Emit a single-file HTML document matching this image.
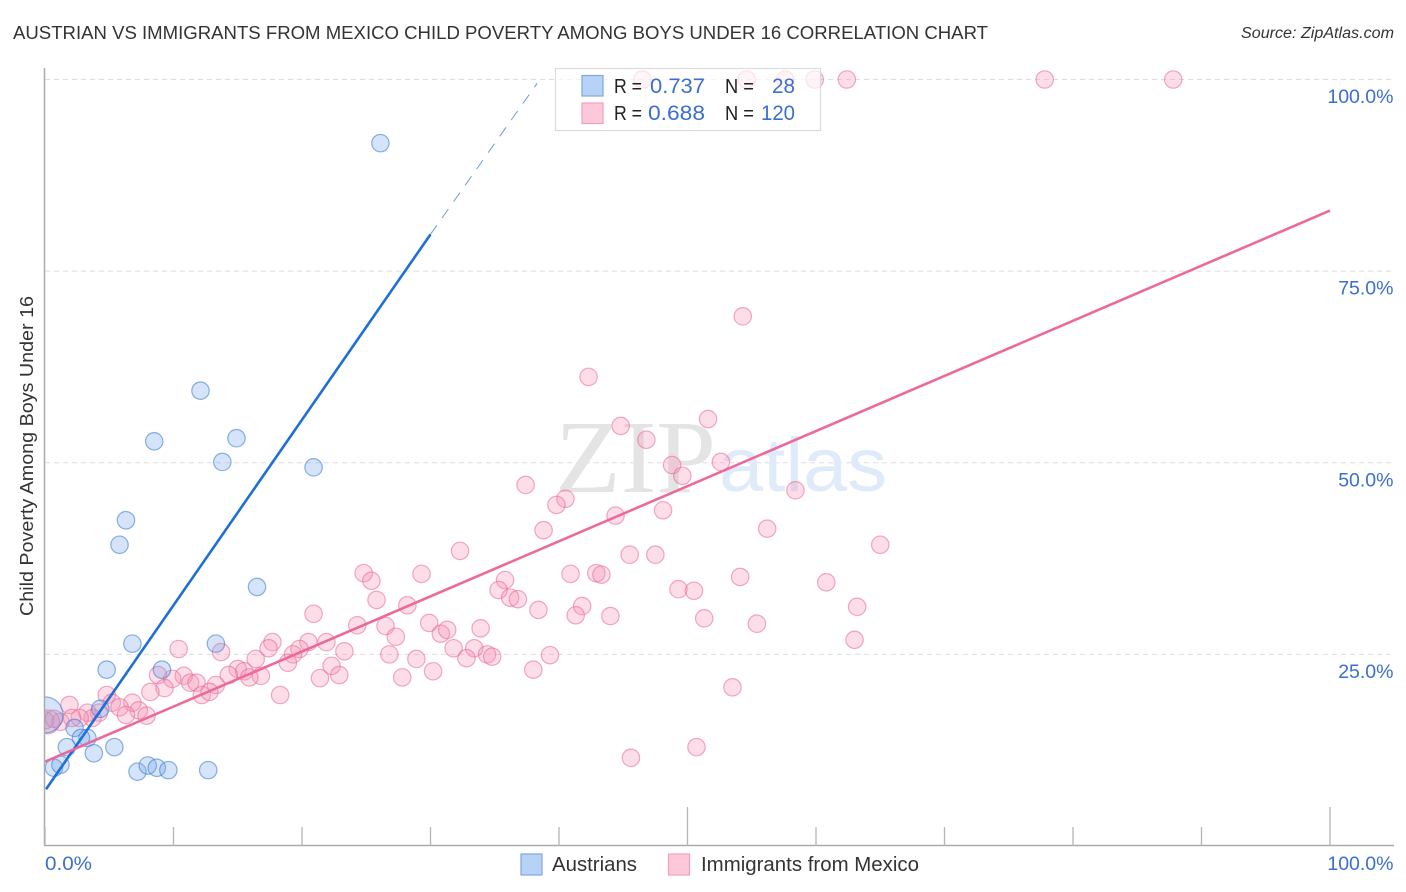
<!DOCTYPE html>
<html lang="en">
<head>
<meta charset="utf-8">
<title>Austrian vs Immigrants from Mexico Child Poverty Correlation Chart</title>
<style>
html,body{margin:0;padding:0;background:#fff;}
svg{display:block;font-family:"Liberation Sans",sans-serif;}
</style>
</head>
<body>
<svg id="chart" width="1406" height="892" viewBox="0 0 1406 892" xmlns="http://www.w3.org/2000/svg">
  <defs>
    <clipPath id="plot-clip"><rect x="45" y="60" width="1350" height="786"/></clipPath>
  </defs>
  <rect x="0" y="0" width="1406" height="892" fill="#fff"/>
  <text x="13" y="39" font-size="18.5" fill="#333" textLength="975" lengthAdjust="spacingAndGlyphs">AUSTRIAN VS IMMIGRANTS FROM MEXICO CHILD POVERTY AMONG BOYS UNDER 16 CORRELATION CHART</text>
  <text x="1241" y="38" font-size="15.5" font-style="italic" fill="#333" textLength="153" lengthAdjust="spacingAndGlyphs">Source: ZipAtlas.com</text>
  <g id="grid"></g>
  <g>
    <text x="555" y="492" font-family="'Liberation Serif',serif" font-size="104" fill="#e4e4e4" textLength="161" lengthAdjust="spacingAndGlyphs">ZIP</text>
    <text x="719" y="491" font-size="76" fill="#dfeafa" textLength="168" lengthAdjust="spacingAndGlyphs">atlas</text>
  </g>
  <g id="points" clip-path="url(#plot-clip)"></g>
  <g id="trends"></g>
  <g id="axes"></g>
  <text transform="translate(33,456) rotate(-90)" text-anchor="middle" font-size="18.5" fill="#333" textLength="320" lengthAdjust="spacingAndGlyphs">Child Poverty Among Boys Under 16</text>

  <g>
    <rect x="555.5" y="68.5" width="265" height="62" fill="#fff" fill-opacity="0.68" stroke="#dcdcdc" stroke-width="1.2"/>
    <rect x="582" y="75.5" width="21" height="20.5" fill="#b7d2f6" stroke="#7da8e0" stroke-width="1.2"/>
    <rect x="582" y="103" width="21" height="20.5" fill="#fdc8da" stroke="#f2a0bd" stroke-width="1.2"/>
    <text x="614" y="93" font-size="20" fill="#222" textLength="28" lengthAdjust="spacingAndGlyphs">R =</text>
    <text x="650" y="93" font-size="21" fill="#3a6fd0" textLength="55" lengthAdjust="spacingAndGlyphs">0.737</text>
    <text x="725" y="93" font-size="20" fill="#222" textLength="29" lengthAdjust="spacingAndGlyphs">N =</text>
    <text x="772" y="93" font-size="21" fill="#3a6fd0" textLength="23" lengthAdjust="spacingAndGlyphs">28</text>
    <text x="614" y="120" font-size="20" fill="#222" textLength="28" lengthAdjust="spacingAndGlyphs">R =</text>
    <text x="648" y="120" font-size="21" fill="#3a6fd0" textLength="57" lengthAdjust="spacingAndGlyphs">0.688</text>
    <text x="725" y="120" font-size="20" fill="#222" textLength="29" lengthAdjust="spacingAndGlyphs">N =</text>
    <text x="761" y="120" font-size="21" fill="#3a6fd0" textLength="34" lengthAdjust="spacingAndGlyphs">120</text>
  </g>

  <g>
    <rect x="521" y="854" width="21" height="21" fill="#b7d2f6" stroke="#7da8e0" stroke-width="1.2"/>
    <text x="552" y="871" font-size="20" fill="#333" textLength="85" lengthAdjust="spacingAndGlyphs">Austrians</text>
    <rect x="668.5" y="854" width="21" height="21" fill="#fdc8da" stroke="#f2a0bd" stroke-width="1.2"/>
    <text x="701" y="871" font-size="20" fill="#333" textLength="218" lengthAdjust="spacingAndGlyphs">Immigrants from Mexico</text>
  </g>
</svg>
<script>
const xTickValues = [0, 10, 20, 30, 40, 50, 60, 70, 80, 90, 100];
const xMajorTicks = [50, 100];
const yTickValues = [25, 50, 75, 100];
const yTickLabels = ["25.0%", "50.0%", "75.0%", "100.0%"];
const xEdgeLabels = ["0.0%", "100.0%"];

const austrianX = [26.1, 12.1, 8.5, 14.9, 13.8, 20.9, 6.3, 5.8, 16.5, 6.8, 13.3, 4.8, 9.1, 4.3, 0, 2.3, 3.3, 2.8, 1.7, 5.4, 3.8, 0.7, 1.2, 7.2, 8.0, 8.7, 9.6, 12.7];
const austrianY = [91.7, 59.4, 52.8, 53.2, 50.1, 49.4, 42.5, 39.3, 33.8, 26.4, 26.4, 23.0, 23.0, 17.9, 17.1, 15.4, 14.1, 14.1, 12.9, 12.9, 12.1, 10.2, 10.6, 9.7, 10.5, 10.2, 9.9, 9.9];
const austrianWeight = [1, 1, 1, 1, 1, 1, 1, 1, 1, 1, 1, 1, 1, 1, 4.3, 1, 1, 1, 1, 1, 1, 1, 1, 1, 1, 1, 1, 1];

const mexicoX = [46.5, 54.6, 57.6, 59.9, 62.4, 77.8, 87.8, 54.3, 42.3, 51.6, 44.8, 46.8, 48.8, 52.6, 49.6, 37.4, 58.4, 40.5, 39.8, 48.1, 44.4, 56.2, 38.8, 65.0, 32.3, 45.5, 47.5, 24.8, 25.4, 29.3, 40.9, 42.9, 43.3, 54.1, 60.8, 35.8, 49.3, 50.5, 35.3, 36.2, 36.8, 25.8, 28.2, 41.8, 63.2, 38.4, 20.9, 41.3, 44.0, 51.3, 24.3, 26.5, 29.9, 55.4, 33.9, 30.8, 31.3, 27.3, 63.0, 21.9, 17.7, 17.4, 20.5, 19.8, 19.3, 10.4, 13.7, 23.3, 26.8, 28.9, 31.8, 33.4, 34.4, 34.8, 32.8, 39.3, 16.4, 18.9, 22.3, 38.0, 30.2, 15.0, 15.5, 14.3, 22.9, 21.4, 27.8, 16.8, 15.9, 10.8, 8.8, 9.9, 11.3, 11.8, 13.3, 9.3, 8.2, 53.5, 18.3, 12.2, 12.8, 4.8, 1.9, 6.8, 5.2, 5.8, 7.3, 6.3, 7.9, 4.2, 3.7, 3.3, 2.7, 2.1, 1.2, 0.2, 0, 0.7, 50.7, 45.6];
const mexicoY = [100, 100, 100, 100, 100, 100, 100, 69.1, 61.2, 55.7, 54.8, 53.0, 49.7, 50.1, 48.3, 47.1, 46.4, 45.3, 44.5, 43.8, 43.1, 41.4, 41.2, 39.3, 38.5, 38.0, 38.0, 35.6, 34.6, 35.5, 35.5, 35.6, 35.4, 35.1, 34.4, 34.7, 33.5, 33.3, 33.4, 32.4, 32.2, 32.1, 31.4, 31.3, 31.2, 30.8, 30.3, 30.1, 30.0, 29.7, 28.8, 28.7, 29.1, 29.0, 28.4, 27.7, 28.2, 27.3, 26.9, 26.6, 26.6, 25.8, 26.6, 25.7, 25.0, 25.7, 25.3, 25.4, 25.0, 24.4, 25.8, 25.8, 25.0, 24.7, 24.5, 24.9, 24.4, 23.9, 23.5, 23.0, 22.8, 23.1, 22.8, 22.3, 22.3, 21.9, 22.0, 22.2, 22.0, 22.2, 22.3, 21.8, 21.3, 21.3, 21.0, 20.6, 20.1, 20.7, 19.7, 19.7, 20.1, 19.7, 18.4, 18.7, 18.7, 18.1, 17.7, 17.1, 17.0, 17.4, 16.7, 17.4, 16.7, 16.7, 16.2, 16.2, 16.4, 16.6, 12.9, 11.5];

const austrianTrendX = [0, 30];
const austrianTrendY = [7.4, 79.8];
const austrianDashX = [30, 38.3];
const austrianDashY = [79.8, 99.5];
const mexicoTrendX = [0, 100];
const mexicoTrendY = [11.0, 82.9];

const SVG_NS = "http://www.w3.org/2000/svg";
function xs(v) { return 45 + v * 12.85; }
function ys(v) { return 846 - v * 7.665; }
function make(tag, attrs, parent) {
  const el = document.createElementNS(SVG_NS, tag);
  for (const k in attrs) el.setAttribute(k, attrs[k]);
  parent.appendChild(el);
  return el;
}

const gridG = document.getElementById("grid");
const axesG = document.getElementById("axes");
const pointsG = document.getElementById("points");
const trendsG = document.getElementById("trends");

yTickValues.forEach(function (v, i) {
  const line = make("line", { x1: 45, x2: 1393, y1: ys(v), y2: ys(v), stroke: "#dedede", "stroke-width": 1, "stroke-dasharray": "5 4" }, gridG);
  
  
  const label = make("text", { x: 1393.5, y: ys(v) + 23.6, "text-anchor": "end", "font-size": 19.5, fill: "#3a6fd0" }, axesG);
  
  
  label.textContent = yTickLabels[i];
});

const yAxisLine = make("line", { x1: 44.5, x2: 44.5, y1: 68, y2: 846, stroke: "#aaa", "stroke-width": 1.5 }, axesG);


const xAxisLine = make("line", { x1: 44, x2: 1394, y1: 845.5, y2: 845.5, stroke: "#aaa", "stroke-width": 1.5 }, axesG);



xTickValues.forEach(function (v) {
  const major = xMajorTicks.indexOf(v) >= 0;
  const tick = make("line", { x1: xs(v), x2: xs(v), y1: major ? 807 : 827, y2: 846, stroke: "#b5b5b5", "stroke-width": 1.3 }, axesG);
  
  
});

const xLabelLeft = make("text", { x: 45, y: 870, "font-size": 19.5, fill: "#3a6fd0", textLength: 47, lengthAdjust: "spacingAndGlyphs" }, axesG);


xLabelLeft.textContent = xEdgeLabels[0];
const xLabelRight = make("text", { x: 1393.5, y: 870, "text-anchor": "end", "font-size": 19.5, fill: "#3a6fd0" }, axesG);


xLabelRight.textContent = xEdgeLabels[1];

mexicoX.forEach(function (v, i) {
  const c = make("circle", { cx: xs(v), cy: ys(mexicoY[i]), r: i === 115 ? 12 : 8.7, fill: "#f78fb3", "fill-opacity": 0.3, stroke: "#e8668f", "stroke-opacity": 0.55, "stroke-width": 1.2 }, pointsG);
  
  
});
austrianX.forEach(function (v, i) {
  const c = make("circle", { cx: xs(v), cy: ys(austrianY[i]), r: 8.7 * Math.sqrt(austrianWeight[i]), fill: "#74a6e8", "fill-opacity": 0.3, stroke: "#3f7fd6", "stroke-opacity": 0.6, "stroke-width": 1.2 }, pointsG);
  
  
});

const austrianLine = make("line", { x1: xs(austrianTrendX[0]) + 1, y1: ys(austrianTrendY[0]), x2: xs(austrianTrendX[1]), y2: ys(austrianTrendY[1]), stroke: "#1f6fd6", "stroke-width": 2.6 }, trendsG);


const austrianDash = make("line", { x1: xs(austrianDashX[0]), y1: ys(austrianDashY[0]), x2: xs(austrianDashX[1]), y2: ys(austrianDashY[1]), stroke: "#6a9ce0", "stroke-width": 1, "stroke-dasharray": "11 9" }, trendsG);


const mexicoLine = make("line", { x1: xs(mexicoTrendX[0]), y1: ys(mexicoTrendY[0]), x2: xs(mexicoTrendX[1]), y2: ys(mexicoTrendY[1]), stroke: "#ec6a9b", "stroke-width": 2.6 }, trendsG);


</script>
</body>
</html>
